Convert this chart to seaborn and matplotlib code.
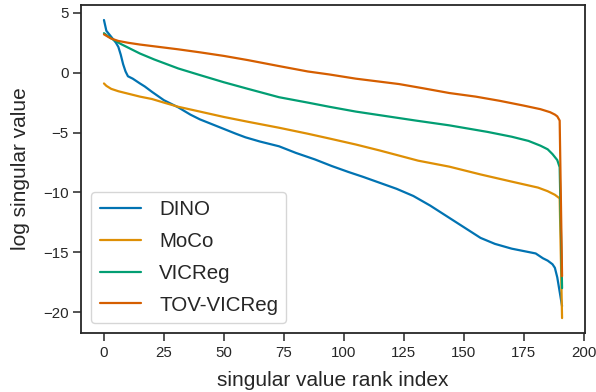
import numpy as np
import pandas as pd
import matplotlib
matplotlib.use("Agg")
import matplotlib.pyplot as plt
import seaborn as sns

# ---- data ----
methods = ["DINO", "MoCo", "VICReg", "TOV-VICReg"]

dino_rank = [0, 1, 2, 3, 4, 5, 6, 7, 8, 9, 10, 12, 15, 17, 20, 25, 31, 36, 40, 45,
             50, 55, 59, 65, 73, 80, 88, 95, 102, 108, 115, 122, 129, 136, 143, 150,
             157, 163, 170, 175, 180, 183, 185, 187, 188, 189, 190, 191]
dino_val = [4.4, 3.5, 3.25, 3.0, 2.75, 2.5, 2.15, 1.5, 0.7, 0.1, -0.3, -0.5, -0.9, -1.15,
            -1.6, -2.3, -2.9, -3.5, -3.9, -4.3, -4.7, -5.1, -5.4, -5.75, -6.15, -6.7,
            -7.25, -7.8, -8.3, -8.7, -9.2, -9.7, -10.3, -11.1, -12.0, -12.9, -13.8,
            -14.3, -14.7, -14.9, -15.1, -15.5, -15.7, -16.0, -16.3, -17.1, -18.3, -19.5]

moco_rank = [0, 1, 3, 6, 10, 15, 20, 25, 31, 40, 50, 60, 73, 85, 94, 105, 115, 131,
             144, 157, 170, 181, 185, 188, 190, 191]
moco_val = [-0.9, -1.1, -1.35, -1.55, -1.75, -2.0, -2.2, -2.5, -2.85, -3.25, -3.7,
            -4.1, -4.6, -5.1, -5.5, -6.0, -6.5, -7.35, -7.85, -8.5, -9.1, -9.6, -9.9,
            -10.2, -10.5, -20.5]

vicreg_rank = [0, 2, 4, 7, 10, 15, 21, 25, 31, 40, 50, 60, 73, 85, 94, 105, 115, 130,
               144, 160, 170, 177, 182, 185, 187, 189, 190, 191]
vicreg_val = [3.3, 3.0, 2.75, 2.4, 2.1, 1.6, 1.1, 0.8, 0.35, -0.2, -0.8, -1.35, -2.05,
              -2.5, -2.85, -3.25, -3.55, -4.0, -4.4, -4.95, -5.35, -5.7, -6.1, -6.4,
              -6.8, -7.3, -7.9, -18.0]

tov_rank = [0, 3, 6, 10, 15, 21, 31, 40, 50, 60, 73, 85, 94, 105, 115, 123, 133, 144,
            155, 165, 175, 182, 186, 188, 189, 190, 191]
tov_val = [3.2, 2.85, 2.65, 2.5, 2.35, 2.2, 1.95, 1.7, 1.4, 1.05, 0.55, 0.1, -0.15,
           -0.5, -0.75, -0.95, -1.3, -1.7, -2.0, -2.35, -2.75, -3.05, -3.3, -3.5,
           -3.65, -4.0, -17.0]

# ---- build long-form table ----
frames = []
for name, r, v in [("DINO", dino_rank, dino_val), ("MoCo", moco_rank, moco_val),
                   ("VICReg", vicreg_rank, vicreg_val), ("TOV-VICReg", tov_rank, tov_val)]:
    frames.append(pd.DataFrame({"rank": r, "value": v, "method": name}))
df = pd.concat(frames, ignore_index=True)

sns.set_theme(style="ticks", palette="colorblind")
plt.rcParams["font.family"] = ["Liberation Sans", "DejaVu Sans"]

fig = plt.figure(figsize=(5.96, 3.92), dpi=100)
ax = fig.add_axes([0.136, 0.1505, 0.9815 - 0.136, 0.987 - 0.1505])

sns.lineplot(data=df, x="rank", y="value", hue="method", hue_order=methods,
             palette=sns.color_palette("colorblind", 4), linewidth=1.6, ax=ax)

ax.set_xlabel("singular value rank index", fontsize=15, color=".15", labelpad=8)
ax.set_ylabel("log singular value", fontsize=15, color=".15", labelpad=9)
ax.tick_params(axis="both", labelsize=10.8, colors=".15", length=5.5, width=1.1)
ax.set_xticks([0, 25, 50, 75, 100, 125, 150, 175, 200])
ax.set_yticks([-20, -15, -10, -5, 0, 5])
ax.margins(x=0.05, y=0.05)
for s in ax.spines.values():
    s.set_linewidth(1.3)

sns.move_legend(ax, "lower left", title=None, fontsize=14.8, frameon=True,
                labelspacing=0.62, handletextpad=0.9)

fig.savefig("out.png", dpi=100)
